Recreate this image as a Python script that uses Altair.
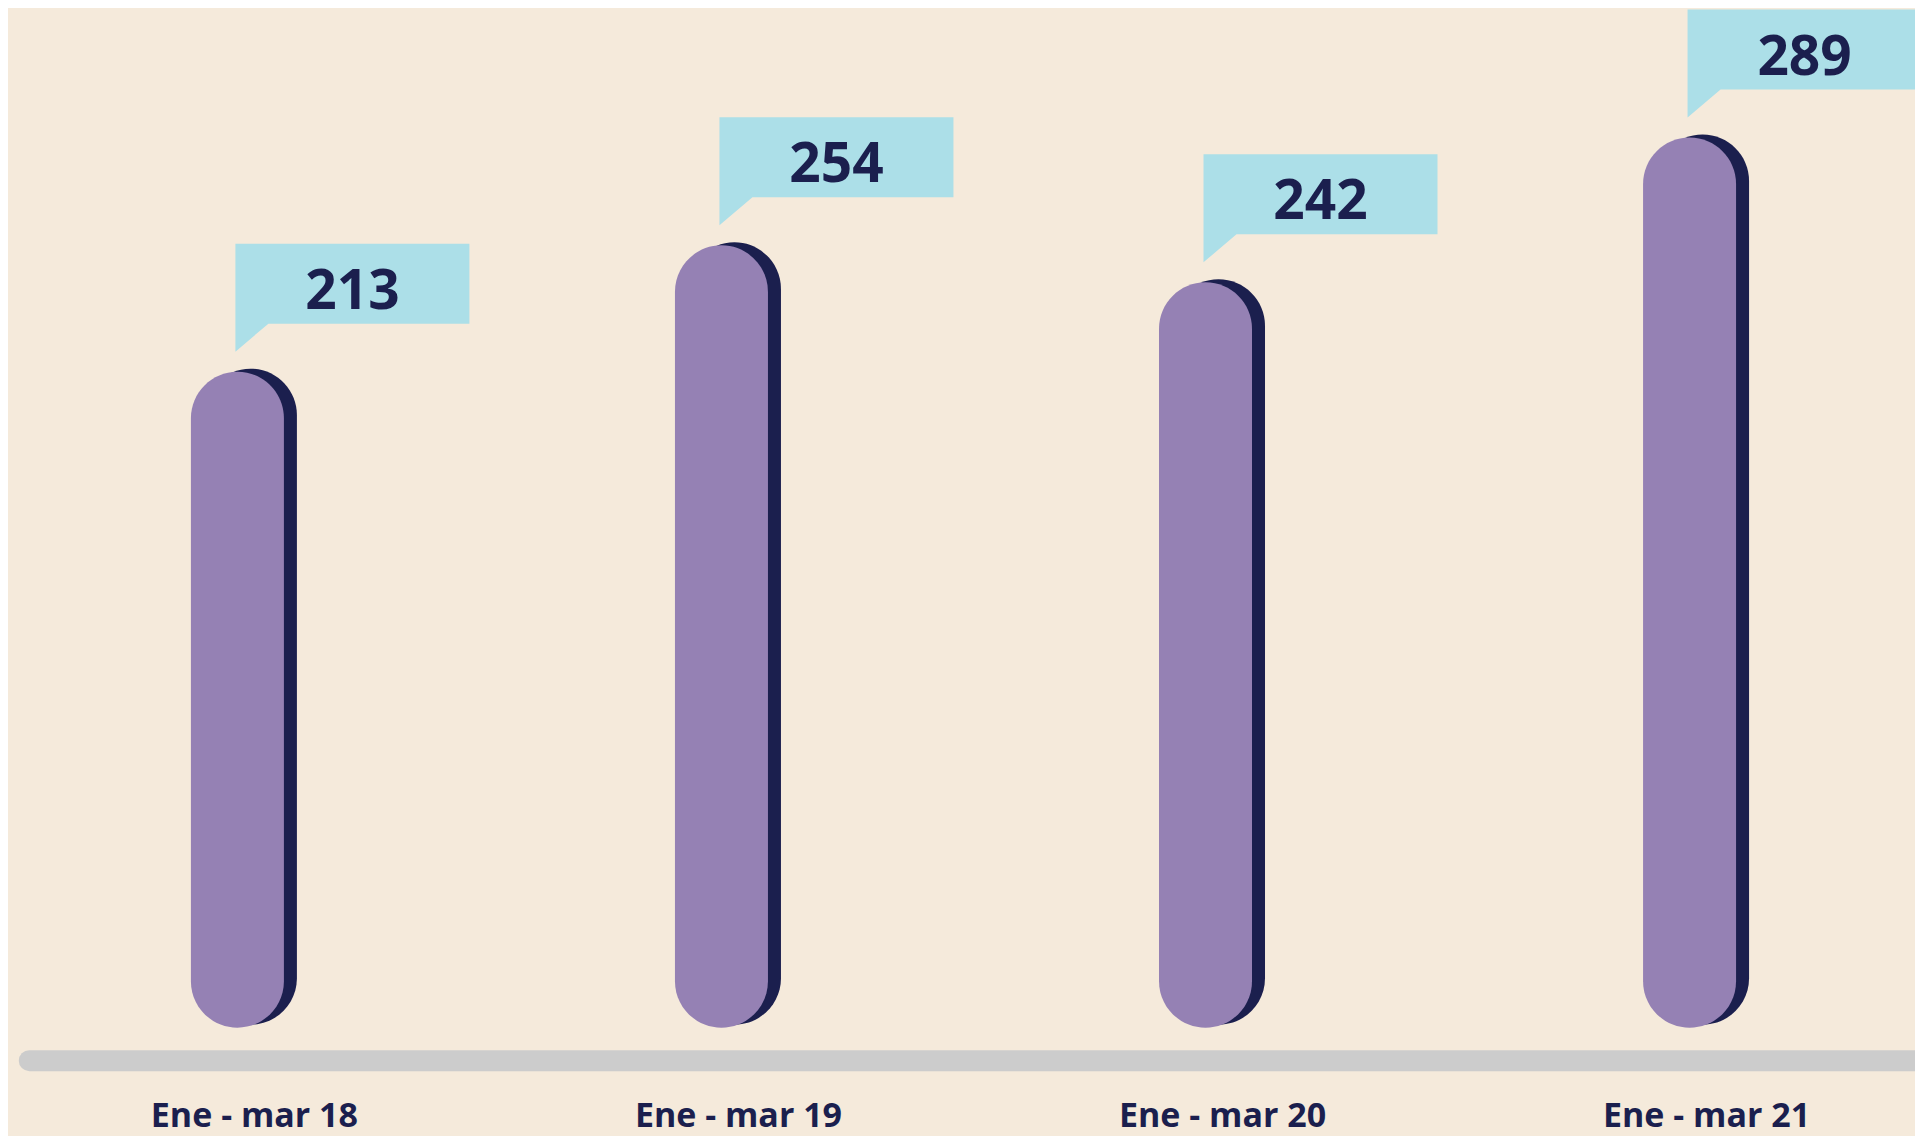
import altair as alt
import pandas as pd

# ---- data ----
categories = ["Ene - mar 18", "Ene - mar 19", "Ene - mar 20", "Ene - mar 21"]
values = [213, 254, 242, 289]

df = pd.DataFrame({
    "cat": categories,
    "value": values,
    "pos": list(range(len(categories))),
})

# ---- style ----
BG = "#F5EADB"
PURPLE = "#9581B4"
NAVY = "#1B1F4E"
CALLOUT = "#ACDFE8"
GREY = "#CCCCCC"
FONT = "Open Sans"

W, H = 1907, 1128
x_scale = alt.Scale(domain=[-0.4636, 3.4554], nice=False, zero=False)
y_scale = alt.Scale(domain=[-35.17, 331.06], nice=False, zero=False)

base = alt.Chart(df).transform_calculate(zero="0")
X = alt.X("pos:Q", scale=x_scale, axis=None)
Y = alt.Y("value:Q", scale=y_scale, axis=None)
Y0 = alt.Y("zero:Q", scale=y_scale, axis=None)

# baseline rule (one row only)
rule = alt.Chart(pd.DataFrame({"a": [-0.43], "b": [4.2], "z": [0]})).mark_rule(
    color=GREY, strokeWidth=21, strokeCap="round", yOffset=33
).encode(
    x=alt.X("a:Q", scale=x_scale, axis=None),
    x2="b:Q",
    y=alt.Y("z:Q", scale=y_scale, axis=None),
)

shadow = base.mark_bar(
    color=NAVY, size=93, cornerRadius=46.5, xOffset=13, yOffset=-3, y2Offset=-3
).encode(x=X, y=Y, y2="zero:Q")

bars = base.mark_bar(color=PURPLE, size=93, cornerRadius=46.5).encode(
    x=X, y=Y, y2="zero:Q"
)

# speech-bubble callout: box 234x80 with a tail, anchored at the tail tip
callout_path = "M0,0 L0,-0.9231 L2,-0.9231 L2,-0.2393 L0.2821,-0.2393 Z"
callouts = base.mark_point(
    shape=callout_path, size=234 * 234, filled=True, fill=CALLOUT,
    opacity=1, strokeWidth=0, xOffset=-2, yOffset=-20,
).encode(x=X, y=Y)

numbers = base.mark_text(
    font=FONT, fontSize=55, fontWeight="bold", color=NAVY,
    align="center", baseline="alphabetic", dx=115, dy=-63,
).encode(x=X, y=Y, text="value:Q")

labels = base.mark_text(
    font=FONT, fontSize=34, fontWeight="bold", color=NAVY,
    align="center", baseline="alphabetic", dx=17, dy=99,
).encode(x=X, y=Y0, text="cat:N")

chart = alt.layer(rule, shadow, bars, callouts, numbers, labels).properties(
    width=W, height=H, padding=0,
    autosize=alt.AutoSizeParams(type="none"),
    background=BG,
).configure_view(stroke=None)

chart.save("out.html", embed_options={"renderer": "svg", "actions": False})
